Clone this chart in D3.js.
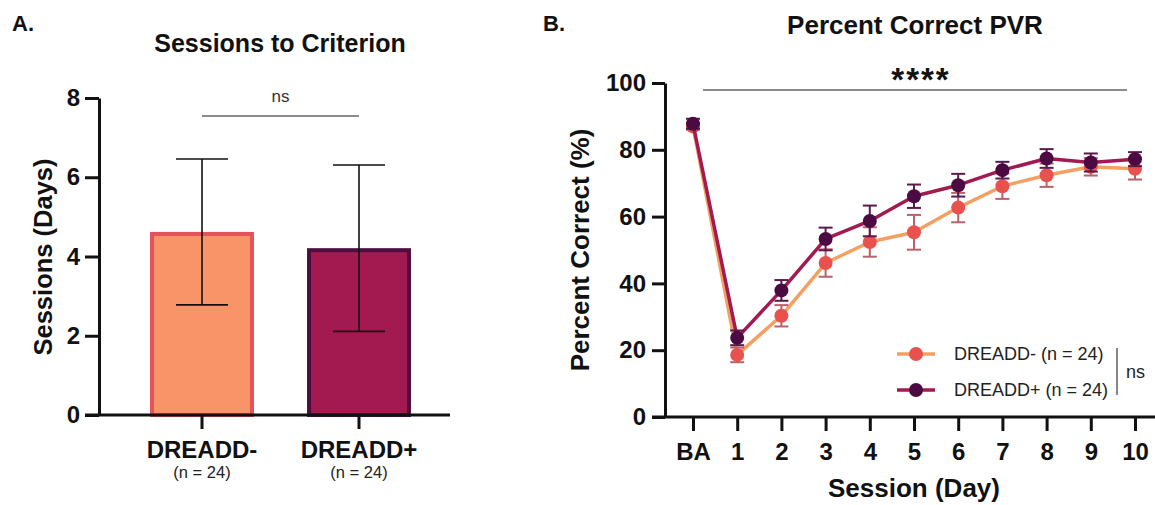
<!DOCTYPE html>
<html>
<head>
<meta charset="utf-8">
<script src="https://cdn.jsdelivr.net/npm/d3@7"></script>
<style>
  html, body { margin: 0; padding: 0; background: #fff; }
  svg { display: block; font-family: "Liberation Sans", Arial, Helvetica, sans-serif; }
</style>
</head>
<body>
<svg id="chart" width="1155" height="505"></svg>
<script>
// ---------- Panel A data ----------
const groups = ["DREADD-", "DREADD+"];
const groupN = ["(n = 24)", "(n = 24)"];
const sessionsMean = [4.62, 4.21];
const sessionsSD = [1.84, 2.10];
const barTicks = [0, 2, 4, 6, 8];

// ---------- Panel B data ----------
const sessions = ["BA", "1", "2", "3", "4", "5", "6", "7", "8", "9", "10"];
const negMean = [87.0, 18.6, 30.3, 46.1, 52.4, 55.3, 62.7, 69.1, 72.4, 74.9, 74.3];
const negSem  = [1.0, 2.2, 3.2, 4.1, 4.4, 5.2, 4.4, 3.8, 3.5, 2.6, 3.2];
const posMean = [87.8, 23.7, 37.9, 53.3, 58.7, 66.1, 69.4, 73.9, 77.4, 76.2, 77.2];
const posSem  = [1.5, 2.2, 3.1, 3.4, 4.6, 3.5, 3.4, 2.5, 2.8, 2.7, 2.1];
const lineTicks = [0, 20, 40, 60, 80, 100];
const legendLabels = ["DREADD- (n = 24)", "DREADD+ (n = 24)"];

const svg = d3.select("#chart");
svg.append("rect").attr("width", 1155).attr("height", 505).attr("fill", "#fff");

const BOLD = 700;
const FF = "Liberation Sans, Arial, sans-serif";

// ================= PANEL A =================
const gA = svg.append("g");
gA.append("text").attr("x", 12).attr("y", 31).text("A.")
  .attr("font-size", 22).attr("font-weight", BOLD).attr("fill", "#111");
gA.append("text").attr("x", 280).attr("y", 52).attr("text-anchor", "middle")
  .text("Sessions to Criterion").attr("font-size", 25).attr("font-weight", BOLD).attr("fill", "#111");

const yA = d3.scaleLinear().domain([0, 8]).range([415, 98]);
const xA = d3.scaleBand().domain(groups).range([123.5, 437.5])
  .paddingInner(0.338).paddingOuter(0.169);

const barFill = ["#F89468", "#A21A4F"];
const barStroke = ["#E4525A", "#4E0D3F"];

gA.selectAll("rect.bar").data(groups).join("rect")
  .attr("class", "bar")
  .attr("x", d => xA(d) + 2)
  .attr("width", xA.bandwidth() - 4)
  .attr("y", (d, i) => yA(sessionsMean[i]) + 2)
  .attr("height", (d, i) => yA(0) - yA(sessionsMean[i]) - 2)
  .attr("fill", (d, i) => barFill[i])
  .attr("stroke", (d, i) => barStroke[i])
  .attr("stroke-width", 4);

// error bars
const capA = 26;
groups.forEach((g, i) => {
  const cx = xA(g) + xA.bandwidth() / 2;
  const hi = yA(sessionsMean[i] + sessionsSD[i]);
  const lo = yA(sessionsMean[i] - sessionsSD[i]);
  gA.append("line").attr("x1", cx).attr("x2", cx).attr("y1", hi).attr("y2", lo)
    .attr("stroke", "#111").attr("stroke-width", 1.6);
  [hi, lo].forEach(y => gA.append("line").attr("x1", cx - capA).attr("x2", cx + capA)
    .attr("y1", y).attr("y2", y).attr("stroke", "#111").attr("stroke-width", 1.6));
});

// y axis
const axA = gA.append("g").attr("transform", "translate(99,0)")
  .call(d3.axisLeft(yA).tickValues(barTicks).tickSize(14).tickSizeOuter(0).tickPadding(5));
axA.select(".domain").attr("stroke", "#111").attr("stroke-width", 3);
axA.selectAll(".tick line").attr("stroke", "#111").attr("stroke-width", 3);
axA.selectAll(".tick text").attr("font-size", 24).attr("font-weight", BOLD)
  .attr("fill", "#111").attr("font-family", FF);

// x axis
gA.append("line").attr("x1", 85).attr("x2", 450).attr("y1", yA(0)).attr("y2", yA(0))
  .attr("stroke", "#111").attr("stroke-width", 3);
const axAx = gA.append("g").attr("transform", `translate(0,${yA(0)})`)
  .call(d3.axisBottom(xA).tickSize(14).tickSizeOuter(0).tickPadding(12));
axAx.select(".domain").remove();
axAx.selectAll(".tick line").attr("stroke", "#111").attr("stroke-width", 3);
axAx.selectAll(".tick text").attr("font-size", 24).attr("font-weight", BOLD)
  .attr("fill", "#111").attr("font-family", FF);
axAx.selectAll(".tick").append("text")
  .attr("y", 63).attr("text-anchor", "middle")
  .attr("font-size", 16.5).attr("fill", "#222")
  .attr("font-family", FF)
  .text((d, i) => groupN[i]);

// y label
gA.append("text").attr("transform", "translate(52,257) rotate(-90)")
  .attr("text-anchor", "middle").text("Sessions (Days)")
  .attr("font-size", 25.5).attr("font-weight", BOLD).attr("fill", "#111");

// significance
const sx1 = xA(groups[0]) + xA.bandwidth() / 2, sx2 = xA(groups[1]) + xA.bandwidth() / 2;
gA.append("line").attr("x1", sx1).attr("x2", sx2).attr("y1", 116).attr("y2", 116)
  .attr("stroke", "#666").attr("stroke-width", 1.5);
gA.append("text").attr("x", (sx1 + sx2) / 2).attr("y", 102).attr("text-anchor", "middle")
  .text("ns").attr("font-size", 17).attr("fill", "#333");

// ================= PANEL B =================
const gB = svg.append("g");
gB.append("text").attr("x", 543).attr("y", 31).text("B.")
  .attr("font-size", 22).attr("font-weight", BOLD).attr("fill", "#111");
gB.append("text").attr("x", 915).attr("y", 34).attr("text-anchor", "middle")
  .text("Percent Correct PVR").attr("font-size", 26).attr("font-weight", BOLD).attr("fill", "#111");

const yB = d3.scaleLinear().domain([0, 100]).range([417, 83]);
const xB = d3.scalePoint().domain(sessions).range([693, 1135]);

// y axis
const axB = gB.append("g").attr("transform", "translate(665,0)")
  .call(d3.axisLeft(yB).tickValues(lineTicks).tickSize(13).tickSizeOuter(0).tickPadding(6));
axB.select(".domain").attr("stroke", "#111").attr("stroke-width", 3);
axB.selectAll(".tick line").attr("stroke", "#111").attr("stroke-width", 3);
axB.selectAll(".tick text").attr("font-size", 24).attr("font-weight", BOLD)
  .attr("fill", "#111").attr("font-family", FF);

// x axis
gB.append("line").attr("x1", 652).attr("x2", 1155).attr("y1", yB(0)).attr("y2", yB(0))
  .attr("stroke", "#111").attr("stroke-width", 3);
const axBx = gB.append("g").attr("transform", `translate(0,${yB(0)})`)
  .call(d3.axisBottom(xB).tickSize(14).tickSizeOuter(0).tickPadding(12));
axBx.select(".domain").remove();
axBx.selectAll(".tick line").attr("stroke", "#111").attr("stroke-width", 3);
axBx.selectAll(".tick text").attr("font-size", 24).attr("font-weight", BOLD)
  .attr("fill", "#111").attr("font-family", FF);

gB.append("text").attr("x", 914).attr("y", 497).attr("text-anchor", "middle")
  .text("Session (Day)").attr("font-size", 26).attr("font-weight", BOLD).attr("fill", "#111");
gB.append("text").attr("transform", "translate(589,250) rotate(-90)")
  .attr("text-anchor", "middle").text("Percent Correct (%)")
  .attr("font-size", 26).attr("font-weight", BOLD).attr("fill", "#111");

// significance ****
gB.append("line").attr("x1", xB("BA") + 10).attr("x2", xB("10") - 8).attr("y1", 90).attr("y2", 90)
  .attr("stroke", "#666").attr("stroke-width", 1.5);
gB.append("text").attr("x", 921).attr("y", 91).attr("text-anchor", "middle")
  .attr("letter-spacing", 2)
  .text("****").attr("font-size", 33).attr("font-weight", BOLD).attr("fill", "#111");

// series
const series = [
  { mean: negMean, sem: negSem, line: "#F4A062", marker: "#E8514E", err: "#B9626A" },
  { mean: posMean, sem: posSem, line: "#A31A50", marker: "#4C0A42", err: "#5B1A4C" }
];
const lineGen = d3.line().x((d, i) => xB(sessions[i])).y(d => yB(d));
const capB = 7;
series.forEach(s => {
  const g = gB.append("g");
  g.append("path").attr("d", lineGen(s.mean)).attr("fill", "none")
    .attr("stroke", s.line).attr("stroke-width", 3.5).attr("stroke-linejoin", "round");
  s.mean.forEach((m, i) => {
    const cx = xB(sessions[i]);
    const hi = yB(m + s.sem[i]), lo = yB(m - s.sem[i]);
    g.append("line").attr("x1", cx).attr("x2", cx).attr("y1", hi).attr("y2", lo)
      .attr("stroke", s.err).attr("stroke-width", 2);
    [hi, lo].forEach(y => g.append("line").attr("x1", cx - capB).attr("x2", cx + capB)
      .attr("y1", y).attr("y2", y).attr("stroke", s.err).attr("stroke-width", 2));
  });
  g.selectAll("circle").data(s.mean).join("circle")
    .attr("cx", (d, i) => xB(sessions[i])).attr("cy", d => yB(d)).attr("r", 7)
    .attr("fill", s.marker);
});

// legend
const legY = [354, 390];
series.forEach((s, i) => {
  gB.append("line").attr("x1", 897).attr("x2", 935).attr("y1", legY[i]).attr("y2", legY[i])
    .attr("stroke", s.line).attr("stroke-width", 3.5);
  gB.append("circle").attr("cx", 916).attr("cy", legY[i]).attr("r", 7).attr("fill", s.marker);
  gB.append("text").attr("x", 954).attr("y", legY[i] + 6).text(legendLabels[i])
    .attr("font-size", 18).attr("fill", "#222");
});
gB.append("line").attr("x1", 1117).attr("x2", 1117).attr("y1", 348).attr("y2", 395)
  .attr("stroke", "#444").attr("stroke-width", 1.3);
gB.append("text").attr("x", 1126).attr("y", 378).text("ns")
  .attr("font-size", 18).attr("fill", "#222");
</script>
</body>
</html>
